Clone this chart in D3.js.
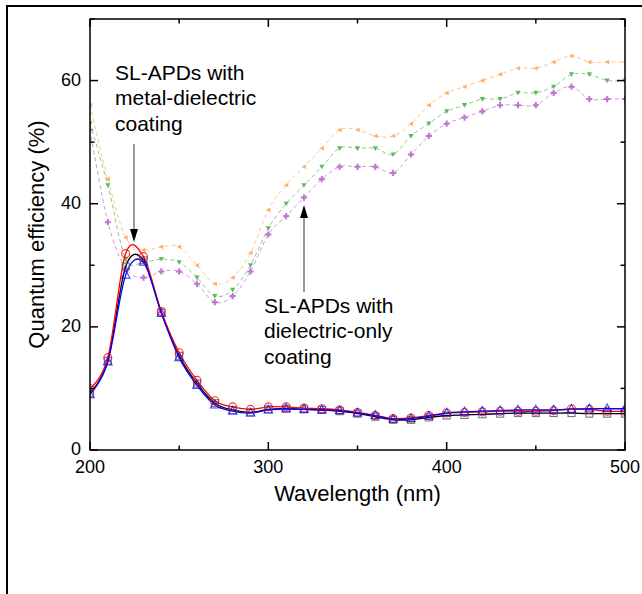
<!DOCTYPE html>
<html>
<head>
<meta charset="utf-8">
<script src="https://cdn.jsdelivr.net/npm/d3@7"></script>
<style>
  html, body { margin: 0; padding: 0; background: #fff; }
  svg { display: block; }
  text { font-family: "Liberation Sans", Arial, sans-serif; fill: #000; }
</style>
</head>
<body>
<script>
// Wavelength grid (nm), one sample every 10 nm
const wavelengths = d3.range(200, 501, 10);

// Metal-dielectric coated SL-APDs (solid lines, open markers)
const metalRed   = [10.0, 15.0, 31.9, 31.4, 22.5, 15.8, 11.3, 8.0, 7.0, 6.6, 7.0, 7.0, 6.8, 6.7, 6.5, 6.1, 5.6, 5.1, 5.2, 5.6, 6.0, 6.1, 6.2, 6.3, 6.3, 6.3, 6.4, 6.7, 6.6, 6.3, 6.3];
const metalBlack = [9.3, 14.5, 29.8, 30.8, 22.3, 15.3, 10.8, 7.6, 6.5, 6.1, 6.6, 6.7, 6.6, 6.5, 6.3, 5.9, 5.4, 4.9, 4.9, 5.3, 5.6, 5.7, 5.8, 5.9, 6.0, 6.0, 6.0, 6.0, 5.9, 5.9, 5.9];
const metalBlue  = [9.0, 14.3, 28.4, 30.5, 22.2, 15.0, 10.5, 7.3, 6.3, 6.0, 6.5, 6.7, 6.6, 6.5, 6.4, 6.0, 5.6, 5.0, 5.1, 5.5, 6.0, 6.2, 6.3, 6.4, 6.5, 6.5, 6.5, 6.6, 6.7, 6.7, 6.7];

// Dielectric-only coated SL-APDs (dashed lines, small filled markers)
const dielOrange = [56, 44, 34.5, 32.5, 33, 33, 30, 27, 28, 32, 39, 43, 46, 49, 52, 52, 51, 51, 53, 56, 58, 59, 60, 61, 62, 62, 63, 64, 63, 63, 63];
const dielGreen  = [53, 43, 31, 30.5, 31, 30.5, 28, 25, 26, 30, 36, 40, 43, 46, 49, 49, 49, 48, 51, 53, 55, 56, 57, 57, 58, 58, 59, 61, 61, 60, 60];
const dielPurple = [52, 37, 29.5, 28, 29, 29, 27, 24, 25, 29, 35, 38, 41, 44, 46, 46, 46, 45, 48, 51, 53, 54, 55, 56, 56, 56, 58, 59, 57, 57, 57];

// Axis ticks
const xMajorTicks = [200, 300, 400, 500];
const xMinorTicks = [250, 350, 450];
const yMajorTicks = [0, 20, 40, 60];
const yMinorTicks = [10, 30, 50, 70];

const W = 642, H = 594;
const plot = { left: 90, right: 625, top: 19, bottom: 450 };

const svg = d3.select("body").append("svg")
  .attr("width", W).attr("height", H);

// outer frame
svg.append("rect")
  .attr("x", 7).attr("y", 6).attr("width", 800).attr("height", 800)
  .attr("fill", "none").attr("stroke", "#000").attr("stroke-width", 2);

const x = d3.scaleLinear().domain([200, 500]).range([plot.left, plot.right]);
const y = d3.scaleLinear().domain([0, 70]).range([plot.bottom, plot.top]);

svg.append("defs").append("clipPath").attr("id", "plotclip")
  .append("rect")
  .attr("x", plot.left).attr("y", plot.top)
  .attr("width", plot.right - plot.left).attr("height", plot.bottom - plot.top);

const line = d3.line()
  .x((d, i) => x(wavelengths[i]))
  .y(d => y(d))
  .curve(d3.curveCardinal.tension(0));

const dataLayer = svg.append("g").attr("clip-path", "url(#plotclip)");

// dashed series
const dashed = [
  { values: dielOrange, color: "#ffb066", symbol: "left" },
  { values: dielGreen,  color: "#5fb85f", symbol: "down" },
  { values: dielPurple, color: "#c274d4", symbol: "star" }
];

function markerPath(kind, s) {
  if (kind === "left") return `M${-s},0L${s * 0.8},${-s * 0.9}L${s * 0.8},${s * 0.9}Z`;
  if (kind === "down") return `M${-s},${-s * 0.8}L${s},${-s * 0.8}L0,${s}Z`;
  if (kind === "star") return d3.symbol(d3.symbolCross, s * s * 3.2)();
  return "";
}

dashed.forEach(ser => {
  dataLayer.append("path")
    .attr("d", line(ser.values))
    .attr("fill", "none")
    .attr("stroke", ser.color)
    .attr("stroke-opacity", 0.75)
    .attr("stroke-width", 1)
    .attr("stroke-dasharray", "4,3");
  dataLayer.append("g").selectAll("path")
    .data(ser.values)
    .join("path")
    .attr("transform", (d, i) => `translate(${x(wavelengths[i])},${y(d)})`)
    .attr("d", markerPath(ser.symbol, 2.6))
    .attr("fill", ser.color);
});

// solid series
const solid = [
  { values: metalBlack, color: "#000000", symbol: "square" },
  { values: metalRed,   color: "#ff0000", symbol: "circle" },
  { values: metalBlue,  color: "#0000ff", symbol: "triangle" }
];

solid.forEach(ser => {
  dataLayer.append("path")
    .attr("d", line(ser.values))
    .attr("fill", "none")
    .attr("stroke", ser.color)
    .attr("stroke-width", 1.3);
});

solid.forEach(ser => {
  const g = dataLayer.append("g");
  const pts = g.selectAll("g").data(ser.values).join("g")
    .attr("transform", (d, i) => `translate(${x(wavelengths[i])},${y(d)})`);
  if (ser.symbol === "circle") {
    pts.append("circle").attr("r", 4)
      .attr("fill", "none").attr("stroke", ser.color).attr("stroke-width", 1.1).attr("stroke-opacity", 0.8);
  } else if (ser.symbol === "square") {
    pts.append("rect").attr("x", -3.5).attr("y", -3.5).attr("width", 7).attr("height", 7)
      .attr("fill", "none").attr("stroke", "#555").attr("stroke-width", 1.1).attr("stroke-opacity", 0.8);
  } else {
    pts.append("path").attr("d", "M0,-4.8L4.3,3L-4.3,3Z")
      .attr("fill", "none").attr("stroke", ser.color).attr("stroke-width", 1.1).attr("stroke-opacity", 0.7);
  }
});

// axes box with inward ticks on every side
const axisG = svg.append("g");
axisG.append("rect")
  .attr("x", plot.left).attr("y", plot.top)
  .attr("width", plot.right - plot.left).attr("height", plot.bottom - plot.top)
  .attr("fill", "none").attr("stroke", "#000").attr("stroke-width", 1.5);

const majorLen = 8, minorLen = 4.5;
function xTick(v, len) {
  axisG.append("line").attr("x1", x(v)).attr("x2", x(v))
    .attr("y1", plot.bottom).attr("y2", plot.bottom - len)
    .attr("stroke", "#000").attr("stroke-width", 1.5);
  axisG.append("line").attr("x1", x(v)).attr("x2", x(v))
    .attr("y1", plot.top).attr("y2", plot.top + len)
    .attr("stroke", "#000").attr("stroke-width", 1.5);
}
function yTick(v, len) {
  axisG.append("line").attr("y1", y(v)).attr("y2", y(v))
    .attr("x1", plot.left).attr("x2", plot.left + len)
    .attr("stroke", "#000").attr("stroke-width", 1.5);
  axisG.append("line").attr("y1", y(v)).attr("y2", y(v))
    .attr("x1", plot.right).attr("x2", plot.right - len)
    .attr("stroke", "#000").attr("stroke-width", 1.5);
}
xMajorTicks.forEach(v => xTick(v, majorLen));
xMinorTicks.forEach(v => xTick(v, minorLen));
yMajorTicks.forEach(v => yTick(v, majorLen));
yMinorTicks.forEach(v => yTick(v, minorLen));

axisG.selectAll("text.xl").data(xMajorTicks).join("text")
  .attr("class", "xl")
  .attr("x", d => x(d)).attr("y", plot.bottom + 23)
  .attr("text-anchor", "middle").attr("font-size", 18)
  .text(d => d);

axisG.selectAll("text.yl").data(yMajorTicks).join("text")
  .attr("class", "yl")
  .attr("x", plot.left - 9).attr("y", d => y(d) + 5)
  .attr("text-anchor", "end").attr("font-size", 18)
  .text(d => d);

svg.append("text")
  .attr("x", (plot.left + plot.right) / 2).attr("y", 501)
  .attr("text-anchor", "middle").attr("font-size", 22)
  .text("Wavelength (nm)");

svg.append("text")
  .attr("transform", `translate(44,${(plot.top + plot.bottom) / 2}) rotate(-90)`)
  .attr("text-anchor", "middle").attr("font-size", 22)
  .text("Quantum efficiency (%)");

// annotations
function annotate(lines, tx, ty) {
  const t = svg.append("text").attr("font-size", 21);
  lines.forEach((s, i) => t.append("tspan").attr("x", tx).attr("y", ty + i * 25.3).text(s));
}
annotate(["SL-APDs with", "metal-dielectric", "coating"], 115, 80);
annotate(["SL-APDs with", "dielectric-only", "coating"], 264, 313);

function arrow(xp, yFrom, yTo) {
  const dir = yTo > yFrom ? 1 : -1;
  svg.append("line").attr("x1", xp).attr("x2", xp)
    .attr("y1", yFrom).attr("y2", yTo - dir * 10)
    .attr("stroke", "#333").attr("stroke-width", 1);
  svg.append("path")
    .attr("d", `M${xp},${yTo}L${xp - 4},${yTo - dir * 13}L${xp + 4},${yTo - dir * 13}Z`)
    .attr("fill", "#000");
}
arrow(134, 144, 242);
arrow(304, 292, 205);
</script>
</body>
</html>
